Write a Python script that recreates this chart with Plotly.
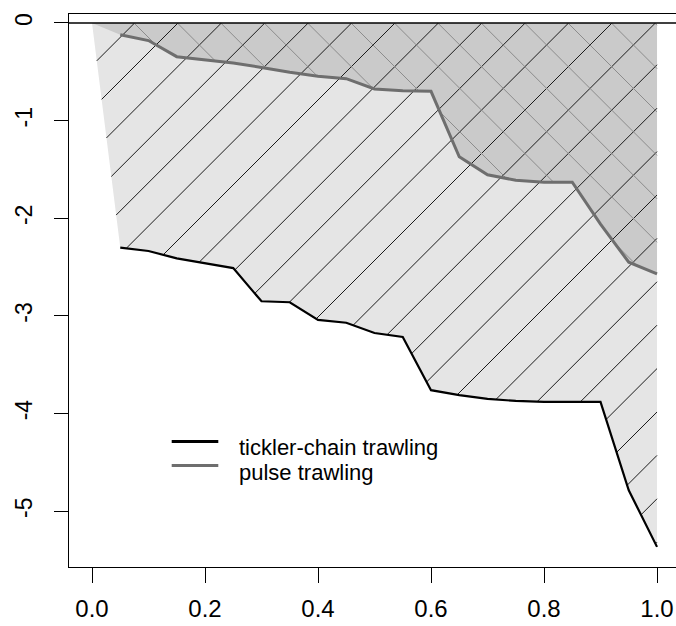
import math
import plotly.graph_objects as go

# Cumulative fraction (x) and cumulative change for the two gear types
frac = [0.00, 0.05, 0.10, 0.15, 0.20, 0.25, 0.30, 0.35, 0.40, 0.45, 0.50,
        0.55, 0.60, 0.65, 0.70, 0.75, 0.80, 0.85, 0.90, 0.95, 1.00]
tickler = [0.00, -2.30, -2.335, -2.41, -2.46, -2.51, -2.85, -2.86, -3.04, -3.07, -3.175,
           -3.215, -3.76, -3.81, -3.85, -3.87, -3.88, -3.88, -3.88, -4.785, -5.365]
pulse = [0.00, -0.12, -0.18, -0.345, -0.38, -0.41, -0.455, -0.505, -0.545, -0.57, -0.675,
         -0.695, -0.70, -1.37, -1.555, -1.61, -1.63, -1.63, -2.06, -2.45, -2.57]
series_names = ["tickler-chain trawling", "pulse trawling"]

x_tickvals = [0.0, 0.2, 0.4, 0.6, 0.8, 1.0]
x_ticktext = ["0.0", "0.2", "0.4", "0.6", "0.8", "1.0"]
y_tickvals = [0, -1, -2, -3, -4, -5]
y_ticktext = ["0", "-1", "-2", "-3", "-4", "-5"]

# Figure geometry
W, H = 676, 626
M = dict(l=69, r=0, t=14, b=59)
PW, PH = W - M["l"] - M["r"], H - M["t"] - M["b"]
XR = [-0.0407, 1.0336]
YR = [-5.571, 0.092]

FONT = "Liberation Sans, Arial, Helvetica, sans-serif"
LIGHT_FILL = "#E5E5E5"
DARK_FILL = "#CACACA"
PULSE_LINE = "#6E6E6E"


def to_px(x, y):
    px = M["l"] + (x - XR[0]) / (XR[1] - XR[0]) * PW
    py = M["t"] + (YR[1] - y) / (YR[1] - YR[0]) * PH
    return px, py


def to_data(px, py):
    x = XR[0] + (px - M["l"]) / PW * (XR[1] - XR[0])
    y = YR[1] - (py - M["t"]) / PH * (YR[1] - YR[0])
    return x, y


def hatch(poly_x, poly_y, direction, offset, spacing):
    """Hatch lines at +/-45 degrees on screen, clipped to a polygon."""
    pts = [to_px(x, y) for x, y in zip(poly_x, poly_y)]
    vals = [p[0] + direction * p[1] for p in pts]
    k0 = math.ceil((min(vals) - offset) / spacing)
    k1 = math.floor((max(vals) - offset) / spacing)
    n = len(pts)
    xs, ys = [], []
    for k in range(k0, k1 + 1):
        c = offset + k * spacing
        hits = []
        for i in range(n):
            a, b = pts[i], pts[(i + 1) % n]
            fa, fb = vals[i] - c, vals[(i + 1) % n] - c
            if (fa < 0) != (fb < 0):
                t = fa / (fa - fb)
                hits.append((a[0] + t * (b[0] - a[0]), a[1] + t * (b[1] - a[1])))
        hits.sort()
        for j in range(0, len(hits) - 1, 2):
            for p in (hits[j], hits[j + 1]):
                x, y = to_data(*p)
                xs.append(x)
                ys.append(y)
            xs.append(None)
            ys.append(None)
    return xs, ys


# Closed areas between zero and each cumulative curve
tick_px = frac + [frac[-1]]
tick_py = tickler + [0.0]
pulse_px = frac + [frac[-1]]
pulse_py = pulse + [0.0]

fig = go.Figure()

fig.add_trace(go.Scatter(x=tick_px, y=tick_py, mode="lines", fill="toself",
                         fillcolor=LIGHT_FILL, line=dict(width=0),
                         hoverinfo="skip", showlegend=False))
fig.add_trace(go.Scatter(x=pulse_px, y=pulse_py, mode="lines", fill="toself",
                         fillcolor=DARK_FILL, line=dict(width=0),
                         hoverinfo="skip", showlegend=False))

hx, hy = hatch(tick_px, tick_py, +1, 591.6, 43.4)
fig.add_trace(go.Scatter(x=hx, y=hy, mode="lines",
                         line=dict(color="#1a1a1a", width=1),
                         hoverinfo="skip", showlegend=False))
gx, gy = hatch(pulse_px, pulse_py, -1, 588.4, 43.4)
fig.add_trace(go.Scatter(x=gx, y=gy, mode="lines",
                         line=dict(color="#8c8c8c", width=1),
                         hoverinfo="skip", showlegend=False))

fig.add_trace(go.Scatter(x=frac[1:], y=tickler[1:], mode="lines",
                         name=series_names[0],
                         line=dict(color="black", width=2.2),
                         showlegend=False))
fig.add_trace(go.Scatter(x=frac[1:], y=pulse[1:], mode="lines",
                         name=series_names[1],
                         line=dict(color=PULSE_LINE, width=3),
                         showlegend=False))


def paper_x(px):
    return (px - M["l"]) / PW


def paper_y(py):
    return 1 - (py - M["t"]) / PH


shapes = [
    dict(type="line", xref="paper", yref="y", x0=0, x1=1, y0=0, y1=0,
         line=dict(color="black", width=1.3), layer="above"),
]
annotations = []
# legend rows: label, colour, sample line y, text centre y (pixels)
legend_rows = [(series_names[0], "black", 441.5, 447.0),
               (series_names[1], PULSE_LINE, 465.5, 472.0)]
for name, color, ly, ty in legend_rows:
    shapes.append(dict(type="line", xref="paper", yref="paper",
                       x0=paper_x(171.7), x1=paper_x(218.3),
                       y0=paper_y(ly), y1=paper_y(ly),
                       line=dict(color=color, width=3)))
    annotations.append(dict(text=name, xref="paper", yref="paper",
                            x=paper_x(237), y=paper_y(ty),
                            xanchor="left", yanchor="middle", showarrow=False,
                            font=dict(family=FONT, size=22, color="black")))

fig.update_layout(
    width=W, height=H, margin=M,
    paper_bgcolor="white", plot_bgcolor="white",
    showlegend=False,
    shapes=shapes, annotations=annotations,
    xaxis=dict(range=XR, tickvals=x_tickvals, ticktext=x_ticktext,
               ticks="outside", ticklen=15, tickwidth=1.3, tickcolor="black",
               showline=True, mirror=True, linecolor="black", linewidth=1.3,
               showgrid=False, zeroline=False, ticklabelstandoff=5,
               tickfont=dict(family=FONT, size=24, color="black")),
    yaxis=dict(range=YR, tickvals=y_tickvals, ticktext=y_ticktext,
               ticks="outside", ticklen=14, tickwidth=1.3, tickcolor="black",
               showline=True, mirror=False, linecolor="black", linewidth=1.3,
               showgrid=False, zeroline=False, tickangle=-90,
               ticklabelstandoff=13,
               tickfont=dict(family=FONT, size=23, color="black")),
)

fig.write_html("out.html")
